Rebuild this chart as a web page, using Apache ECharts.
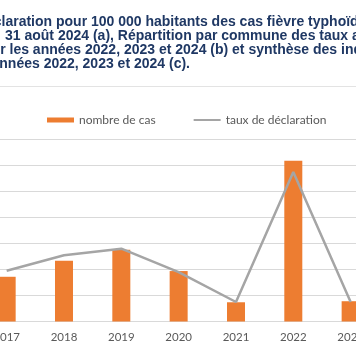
<!DOCTYPE html>
<html>
<head>
<meta charset="utf-8">
<script src="https://cdn.jsdelivr.net/npm/echarts@6/dist/echarts.min.js"></script>
<style>
html,body{margin:0;padding:0;background:#fff;overflow:hidden;}
#wrap{position:relative;width:356px;height:364px;overflow:hidden;}
#chart{position:absolute;left:-22px;top:0;width:402px;height:364px;}
</style>
</head>
<body>
<div id="wrap"><div id="chart"></div></div>
<script>
const categories = ['2017', '2018', '2019', '2020', '2021', '2022', '2023'];
const casesValues = [8.6, 11.7, 13.8, 9.7, 3.7, 30.9, 3.9];
const rateValues = [3.9, 5.1, 5.6, 3.8, 1.5, 11.5, 1.5];
const seriesNames = ['nombre de cas', 'taux de déclaration'];
const titleLines = [
  'déclaration pour 100 000 habitants des cas fièvre typhoïde',
  '31 août 2024 (a), Répartition par commune des taux annuels',
  'pour les années 2022, 2023 et 2024 (b) et synthèse des indicateurs',
  'années 2022, 2023 et 2024 (c).'
];
const OFF = 22;
const titleX = [-22.6, 5, -25.5, -8.5];
const titleY = [21.7, 36, 50, 64.3];

const chart = echarts.init(document.getElementById('chart'), null, {renderer: 'canvas'});
const font = 'Lato, "Open Sans", sans-serif';
chart.setOption({
  backgroundColor: '#ffffff',
  animation: false,
  graphic: titleLines.map((t, i) => ({
    type: 'text',
    x: titleX[i] + OFF,
    y: titleY[i],
    style: {
      text: t,
      fill: '#1f3864',
      font: 'bold 14px "Liberation Sans", Arial, sans-serif',
      verticalAlign: 'middle',
      align: 'left'
    }
  })).concat([{
    type: 'line',
    shape: {x1: 0, y1: 86.5, x2: 402, y2: 86.5},
    style: {stroke: '#e3e3e3', lineWidth: 1}
  }]),
  legend: {
    top: 109,
    left: 42 + OFF,
    itemGap: 38,
    itemWidth: 27,
    itemHeight: 5,
    textStyle: {color: '#595959', fontSize: 12, fontFamily: font},
    data: [
      {name: seriesNames[0], icon: 'rect'},
      {name: seriesNames[1], icon: 'path://M0,0 L30,0 L30,2.2 L0,2.2 Z'}
    ]
  },
  grid: {left: 0, right: 0.7, top: 139.5, bottom: 42.5, containLabel: false},
  xAxis: {
    type: 'category',
    data: categories,
    axisTick: {show: false},
    axisLine: {show: true, lineStyle: {color: '#d9d9d9', width: 1}},
    axisLabel: {color: '#595959', fontSize: 11.5, fontFamily: font, margin: 10}
  },
  yAxis: [
    {
      type: 'value', min: 0, max: 35, interval: 5,
      axisLabel: {show: false}, axisLine: {show: false}, axisTick: {show: false},
      splitLine: {show: true, lineStyle: {color: '#d9d9d9', width: 1, type: 'solid'}}
    },
    {
      type: 'value', min: 0, max: 14, interval: 2,
      axisLabel: {show: false}, axisLine: {show: false}, axisTick: {show: false},
      splitLine: {show: false}
    }
  ],
  series: [
    {
      name: seriesNames[0],
      type: 'bar',
      data: casesValues,
      barWidth: 18,
      itemStyle: {color: '#ed7d31'},
      z: 2
    },
    {
      name: seriesNames[1],
      type: 'line',
      yAxisIndex: 1,
      data: rateValues,
      symbol: 'none',
      lineStyle: {color: '#a5a5a5', width: 2.5},
      itemStyle: {color: '#a5a5a5'},
      z: 3
    }
  ]
});
</script>
</body>
</html>
